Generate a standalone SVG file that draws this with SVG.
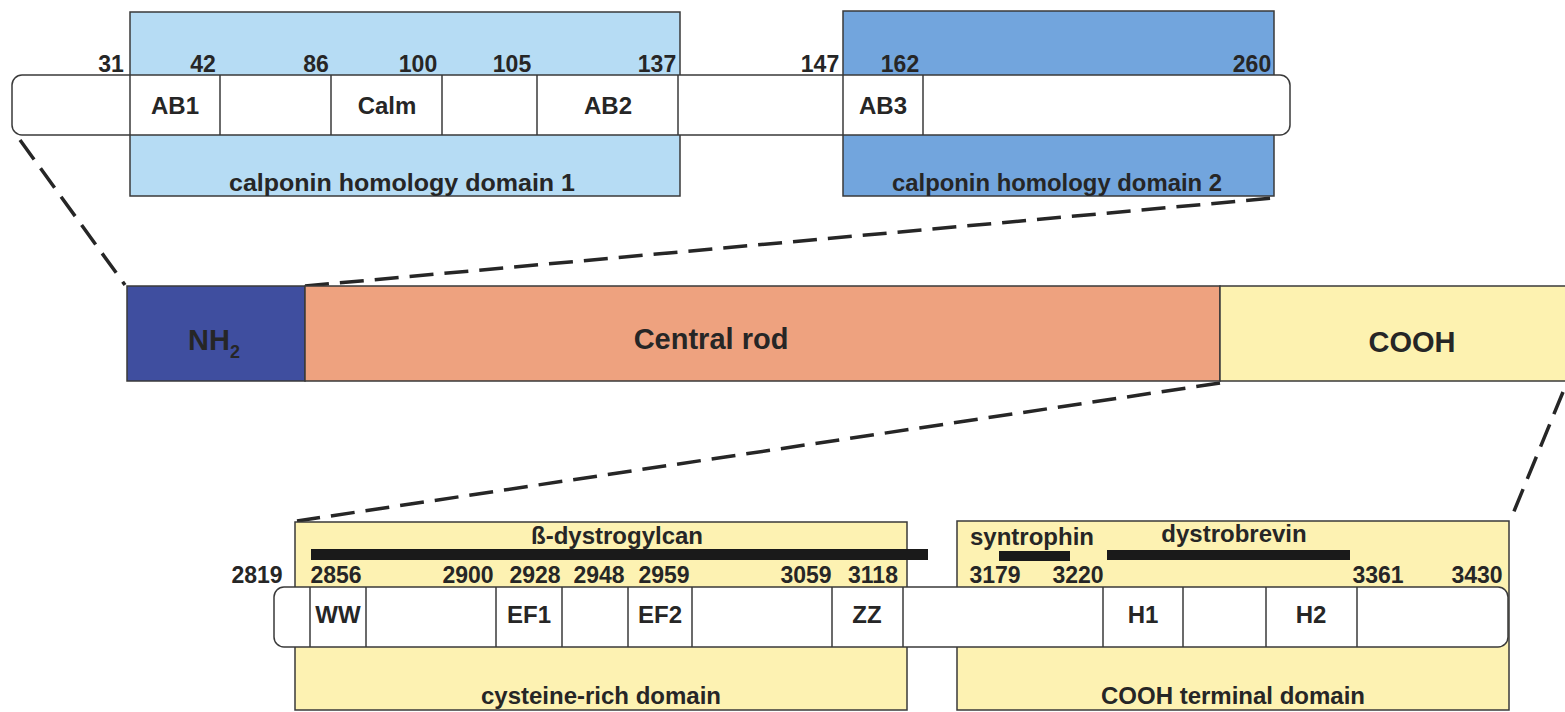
<svg xmlns="http://www.w3.org/2000/svg" width="1565" height="712" viewBox="0 0 1565 712">
<style>
text{font-family:"Liberation Sans",Arial,sans-serif;font-weight:bold;fill:#262626}
.lbl{font-size:24px;text-anchor:middle}
.num{font-size:23px;text-anchor:middle}
.big{font-size:29px;text-anchor:middle}
.box{stroke:#3a3a3a;stroke-width:1.5}
.bar{fill:#ffffff;stroke:#3a3a3a;stroke-width:1.5}
.div{stroke:#3a3a3a;stroke-width:1.5}
.dash{stroke:#262626;stroke-width:3.5;stroke-dasharray:24 11;fill:none}
.blk{fill:#1a1a1a}
</style>
<rect width="1565" height="712" fill="#ffffff"/>

<g id="connectors">
<line class="dash" x1="20" y1="140" x2="125" y2="285"/>
<line class="dash" x1="305" y1="286" x2="1274" y2="198"/>
<line class="dash" x1="1220" y1="383" x2="297" y2="521"/>
<line class="dash" x1="1563" y1="392" x2="1510" y2="521"/>
</g>

<g id="ch1-domain">
<rect class="box" x="130" y="12" width="550" height="184" fill="#b6dcf4"/>
<text class="lbl" x="402" y="191" textLength="346" lengthAdjust="spacingAndGlyphs">calponin homology domain 1</text>
</g>
<g id="ch2-domain">
<rect class="box" x="843" y="11" width="431" height="185" fill="#72a5dd"/>
<text class="lbl" x="1057" y="191" textLength="330" lengthAdjust="spacingAndGlyphs">calponin homology domain 2</text>
</g>

<g id="nterm-bar">
<rect class="bar" x="12" y="75" width="1278" height="60" rx="10"/>
<line class="div" x1="130" y1="75" x2="130" y2="135"/>
<line class="div" x1="220" y1="75" x2="220" y2="135"/>
<line class="div" x1="331" y1="75" x2="331" y2="135"/>
<line class="div" x1="442" y1="75" x2="442" y2="135"/>
<line class="div" x1="537" y1="75" x2="537" y2="135"/>
<line class="div" x1="678" y1="75" x2="678" y2="135"/>
<line class="div" x1="843" y1="75" x2="843" y2="135"/>
<line class="div" x1="923" y1="75" x2="923" y2="135"/>
<text class="lbl" x="175" y="114">AB1</text>
<text class="lbl" x="387" y="114">Calm</text>
<text class="lbl" x="608" y="114">AB2</text>
<text class="lbl" x="883" y="114">AB3</text>
<text class="num" x="111" y="72">31</text>
<text class="num" x="203" y="72">42</text>
<text class="num" x="316" y="72">86</text>
<text class="num" x="418" y="72">100</text>
<text class="num" x="512" y="72">105</text>
<text class="num" x="657" y="72">137</text>
<text class="num" x="820" y="72">147</text>
<text class="num" x="900" y="72">162</text>
<text class="num" x="1252" y="72">260</text>
</g>

<g id="nh2">
<rect class="box" x="127" y="286" width="178" height="95" fill="#3f4e9f"/>
<text class="big" x="214" y="350">NH<tspan font-size="18" dy="8">2</tspan></text>
</g>
<g id="central-rod">
<rect class="box" x="305" y="286" width="915" height="95" fill="#eea27f"/>
<text class="big" x="711" y="349">Central rod</text>
</g>
<g id="cooh">
<rect class="box" x="1220" y="286" width="350" height="95" fill="#fdf2b0"/>
<text class="big" x="1412" y="352">COOH</text>
</g>

<g id="cys-domain">
<rect class="box" x="295" y="522" width="612" height="188" fill="#fdf2b2"/>
<text class="lbl" x="601" y="704">cysteine-rich domain</text>
<rect class="blk" x="311" y="549" width="617" height="11"/>
<text class="lbl" x="617" y="544">ß-dystrogylcan</text>
</g>
<g id="cterm-domain">
<rect class="box" x="957" y="521" width="552" height="189" fill="#fdf2b2"/>
<text class="lbl" x="1233" y="704">COOH terminal domain</text>
<rect class="blk" x="999" y="551" width="71" height="10"/>
<rect class="blk" x="1107" y="550" width="243" height="10"/>
<text class="lbl" x="1032" y="545">syntrophin</text>
<text class="lbl" x="1234" y="542">dystrobrevin</text>
</g>

<g id="cterm-bar">
<rect class="bar" x="274" y="587" width="1234" height="60" rx="10"/>
<line class="div" x1="310" y1="587" x2="310" y2="647"/>
<line class="div" x1="366" y1="587" x2="366" y2="647"/>
<line class="div" x1="496" y1="587" x2="496" y2="647"/>
<line class="div" x1="562" y1="587" x2="562" y2="647"/>
<line class="div" x1="628" y1="587" x2="628" y2="647"/>
<line class="div" x1="692" y1="587" x2="692" y2="647"/>
<line class="div" x1="832" y1="587" x2="832" y2="647"/>
<line class="div" x1="903" y1="587" x2="903" y2="647"/>
<line class="div" x1="1103" y1="587" x2="1103" y2="647"/>
<line class="div" x1="1183" y1="587" x2="1183" y2="647"/>
<line class="div" x1="1266" y1="587" x2="1266" y2="647"/>
<line class="div" x1="1357" y1="587" x2="1357" y2="647"/>
<text class="lbl" x="338" y="623">WW</text>
<text class="lbl" x="529" y="623">EF1</text>
<text class="lbl" x="660" y="623">EF2</text>
<text class="lbl" x="867" y="623">ZZ</text>
<text class="lbl" x="1143" y="623">H1</text>
<text class="lbl" x="1311" y="623">H2</text>
<text class="num" x="257" y="583">2819</text>
<text class="num" x="336" y="583">2856</text>
<text class="num" x="468" y="583">2900</text>
<text class="num" x="535" y="583">2928</text>
<text class="num" x="599" y="583">2948</text>
<text class="num" x="664" y="583">2959</text>
<text class="num" x="806" y="583">3059</text>
<text class="num" x="873" y="583">3118</text>
<text class="num" x="995" y="583">3179</text>
<text class="num" x="1078" y="583">3220</text>
<text class="num" x="1378" y="583">3361</text>
<text class="num" x="1477" y="583">3430</text>
</g>
</svg>
